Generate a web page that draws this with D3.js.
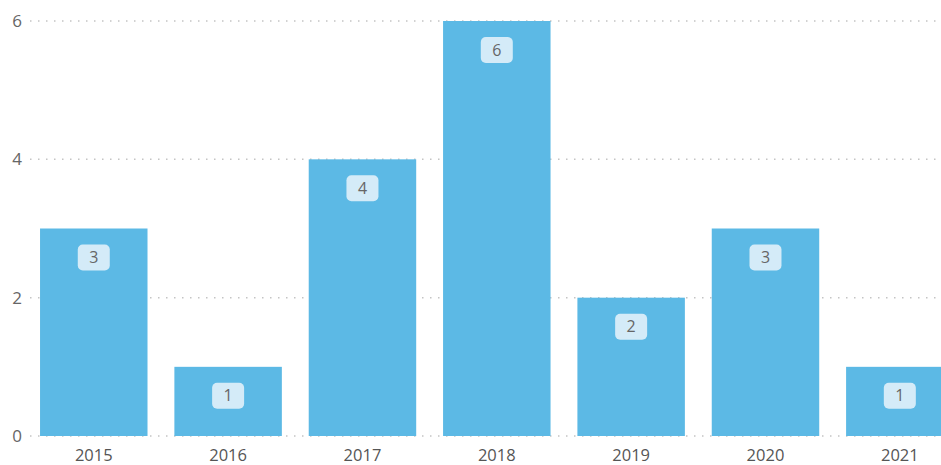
<!DOCTYPE html>
<html>
<head>
<meta charset="utf-8">
<script src="https://cdn.jsdelivr.net/npm/d3@7/dist/d3.min.js"></script>
<style>
  html, body { margin: 0; padding: 0; background: #fff; }
  svg { display: block; font-family: "Open Sans", "Noto Sans", sans-serif; }
</style>
</head>
<body>
<svg id="chart" width="941" height="465"></svg>
<script>
// Counts per year
const years = ["2015", "2016", "2017", "2018", "2019", "2020", "2021"];
const counts = [3, 1, 4, 6, 2, 3, 1];
const yTicks = [0, 2, 4, 6];

const W = 941, H = 465;
const svg = d3.select("#chart");

const x = d3.scaleBand()
  .domain(years)
  .range([26.6, 967])
  .paddingInner(0.2)
  .paddingOuter(0.1);

const y = d3.scaleLinear()
  .domain([0, 6])
  .range([436, 21]);

// Dotted horizontal gridlines
svg.append("g")
  .selectAll("line")
  .data(yTicks)
  .join("line")
  .attr("x1", 30)
  .attr("x2", W)
  .attr("y1", d => y(d))
  .attr("y2", d => y(d))
  .attr("stroke", "#c4c4c4")
  .attr("stroke-width", 1.5)
  .attr("stroke-dasharray", "1.5,6.5");

// Y axis tick labels
svg.append("g")
  .selectAll("text")
  .data(yTicks)
  .join("text")
  .attr("x", 22)
  .attr("y", d => y(d))
  .attr("dy", "0.35em")
  .attr("text-anchor", "end")
  .attr("fill", "#666")
  .attr("font-size", 17)
  .text(d => d);

// Bars
svg.append("g")
  .selectAll("rect")
  .data(years)
  .join("rect")
  .attr("x", d => x(d))
  .attr("y", (d, i) => y(counts[i]))
  .attr("width", x.bandwidth())
  .attr("height", (d, i) => y(0) - y(counts[i]))
  .attr("fill", "#5cb9e5");

// Value badges
const badges = svg.append("g")
  .selectAll("g")
  .data(years)
  .join("g")
  .attr("transform", (d, i) => `translate(${x(d) + x.bandwidth() / 2},${y(counts[i]) + 29})`);

badges.append("rect")
  .attr("x", -16)
  .attr("y", -13)
  .attr("width", 32)
  .attr("height", 26)
  .attr("rx", 5)
  .attr("fill", "#d4ebf8");

badges.append("text")
  .attr("text-anchor", "middle")
  .attr("dy", "0.35em")
  .attr("fill", "#666")
  .attr("font-size", 16)
  .text((d, i) => counts[i]);

// X axis labels
svg.append("g")
  .selectAll("text")
  .data(years)
  .join("text")
  .attr("x", d => x(d) + x.bandwidth() / 2)
  .attr("y", 461)
  .attr("text-anchor", "middle")
  .attr("fill", "#555")
  .attr("font-size", 16.5)
  .text(d => d);
</script>
</body>
</html>
